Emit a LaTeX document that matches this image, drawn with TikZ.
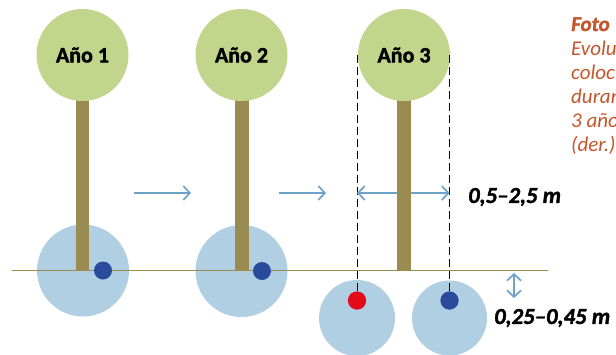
\documentclass[tikz,border=0pt]{standalone}
\usepackage{fontspec}
\setmainfont{Carlito}[BoldFeatures={FakeBold=1.6},BoldItalicFeatures={FakeBold=1.6}]
\usetikzlibrary{arrows.meta}
\definecolor{crown}{HTML}{C1D68C}
\definecolor{trunk}{HTML}{9A8C51}
\definecolor{rootzone}{HTML}{B0CFE3}
\definecolor{dripblue}{HTML}{2A4A9C}
\definecolor{dripred}{HTML}{E30A1A}
\definecolor{arrowblue}{HTML}{6DA2C9}
\definecolor{caption}{HTML}{C4562B}
\tikzset{
  crownnode/.style={circle,fill=crown,minimum size=92pt,inner sep=0pt,font=\fontsize{22}{22}\selectfont\bfseries},
  zonenode/.style={circle,fill=rootzone,inner sep=0pt},
  dripnode/.style={circle,minimum size=18pt,inner sep=0pt},
  measure/.style={draw=arrowblue,line width=1.7pt,-{Straight Barb[length=6.5pt,width=14pt,line width=1.7pt]}},
  measureboth/.style={draw=arrowblue,line width=1.7pt,{Straight Barb[length=6.5pt,width=14pt,line width=1.7pt]}-{Straight Barb[length=6.5pt,width=14pt,line width=1.7pt]}},
  guide/.style={draw=black,line width=0.7pt,dash pattern=on 8pt off 4pt},
  dimlabel/.style={font=\fontsize{22.8}{22.8}\selectfont\bfseries\itshape,anchor=west,inner sep=0pt},
  captionline/.style={font=\fontsize{21}{21}\selectfont\itshape,text=caption,anchor=base west,inner sep=0pt},
}
\begin{document}
\begin{tikzpicture}[x=1pt,y=-1pt]
\useasboundingbox[clip] (0,0) rectangle (616,354);

% root zones, behind the trunks
\node[zonenode,minimum size=92pt] (zoneA) at (83,270.5) {};
\node[zonenode,minimum size=92pt] (zoneB) at (241.5,271) {};
\node[zonenode,minimum size=76pt] (zoneC) at (357,318) {};
\node[zonenode,minimum size=75pt] (zoneD) at (449.5,318) {};

% trunks
\fill[trunk] (76,100) rectangle (89,271);
\fill[trunk] (235,100) rectangle (249,271);
\fill[trunk] (397,100) rectangle (411,271);

% ground line
\coordinate (groundL) at (12,270.5);
\coordinate (groundR) at (548,270.5);
\draw[trunk,line width=1.5pt] (groundL) -- (groundR);

% crowns
\node[crownnode] (yearA) at (82.5,55) {Año 1};
\node[crownnode] (yearB) at (241.5,55) {Año 2};
\node[crownnode] (yearC) at (404,55) {Año 3};

% emitters
\node[dripnode,fill=dripblue] (dripA) at (103,270.5) {};
\node[dripnode,fill=dripblue] (dripB) at (262,271) {};
\node[dripnode,fill=dripred] (dripC) at (357,300.5) {};
\node[dripnode,fill=dripblue] (dripD) at (449.5,300.5) {};

% vertical guides from crown down to the buried emitters
\coordinate (guideC) at (357,55);
\coordinate (guideD) at (449.5,55);
\draw[guide] (guideC) -- (dripC.center);
\draw[guide] (guideD) -- (dripD.center);
\node[dripnode,fill=dripred] at (dripC) {};
\node[dripnode,fill=dripblue] at (dripD) {};

% progression arrows
\coordinate (stepAa) at (134,193);
\coordinate (stepAb) at (191,193);
\coordinate (stepBa) at (279,193);
\coordinate (stepBb) at (326,193);
\draw[measure] (stepAa) -- (stepAb);
\draw[measure] (stepBa) -- (stepBb);

% spacing arrow passes behind the trunk; depth arrow below the ground
\coordinate (spanL) at (357,193);
\coordinate (spanR) at (449.5,193);
\draw[measureboth] (spanL) -- (spanR);
\fill[trunk] (397,180) rectangle (411,206);
\coordinate (depthT) at (514,273);
\coordinate (depthB) at (514,298);
\draw[measureboth] (depthT) -- (depthB);

% dimension labels
\node[dimlabel] (spacing) at (468,197) {0,5–2,5 m};
\node[dimlabel] (depth) at (494,318) {0,25–0,45 m};

% caption, running off the right edge
\node[captionline,font=\fontsize{21}{21}\selectfont\bfseries\itshape] (capA) at (571,31) {Foto};
\node[captionline] (capB) at (571,55) {Evolu};
\node[captionline] (capC) at (571,79) {coloc};
\node[captionline] (capD) at (571,103) {duran};
\node[captionline] (capE) at (571,127) {3 año};
\node[captionline] (capF) at (571,151) {(der.)};
\end{tikzpicture}
\end{document}
